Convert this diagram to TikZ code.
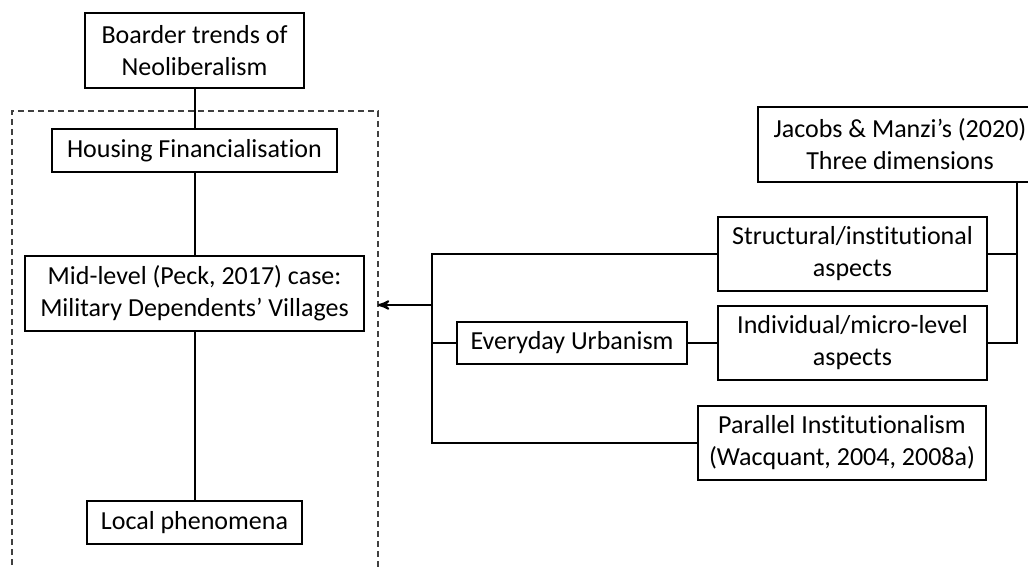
\documentclass[tikz,border=0pt]{standalone}
\usepackage{fontspec}
\setmainfont[Ligatures=NoCommon]{Carlito}
\usetikzlibrary{arrows}

\begin{document}
\begin{tikzpicture}[x=0.5pt, y=-0.5pt, >=stealth', line width=1pt,
    box/.style={draw, line width=0.75pt, inner sep=0pt, align=center,
        font=\fontsize{13}{16}\selectfont},
    frame/.style={draw=black!75, line width=0.6pt, dash pattern=on 3pt off 2pt}]
    \useasboundingbox (0,0) rectangle (1028,567);

    % Left column {boarder, housing, midlevel, local}
    \node [box, minimum width=109.5pt, minimum height=37.5pt] (boarder)  at (194.5,50.5)  {Boarder trends of\\Neoliberalism};
    \node [box, minimum width=142.5pt, minimum height=21.5pt] (housing)  at (194.5,150.5) {Housing Financialisation};
    \node [box, minimum width=169.5pt, minimum height=37.5pt] (midlevel) at (194.5,293.5) {Mid-level (Peck, 2017) case:\\Military Dependents’ Villages};
    \node [box, minimum width=107.5pt, minimum height=21.5pt] (local)    at (194.5,522.5) {Local phenomena};

    % Right side {everyday, structural, individual, parallel, jacobs}
    \node [box, minimum width=115pt,   minimum height=21pt]   (everyday)   at (572,343)   {Everyday Urbanism};
    \node [box, minimum width=134.5pt, minimum height=37pt]   (structural) at (852.5,254) {Structural/institutional\\aspects};
    \node [box, minimum width=134.5pt, minimum height=37pt]   (individual) at (852.5,343) {Individual/micro-level\\aspects};
    \node [box, minimum width=144pt,   minimum height=37pt]   (parallel)   at (842,443)   {Parallel Institutionalism\\(Wacquant, 2004, 2008a)};
    \node [box, minimum width=142pt,   minimum height=37.5pt] (jacobs)     at (900,144.5) {Jacobs \& Manzi’s (2020)\\Three dimensions};

    % Dashed frame (open at the bottom)
    \draw [frame] (12,575) -- (12,111) -- (378,111) -- (378,575);

    % Helper coordinates
    \coordinate (trunk)  at (432,305);
    \coordinate (edge)   at (378,305);
    \coordinate (jdrop)  at (1017,182);

    % Paths
    \draw (boarder)  -- (housing);
    \draw (housing)  -- (midlevel);
    \draw (midlevel) -- (local);
    \draw (structural.west) -- (structural.west -| trunk) -- (parallel.west -| trunk) -- (parallel.west);
    \draw (everyday.west -| trunk) -- (everyday.west);
    \draw (everyday) -- (individual);
    \draw (jdrop) -- (individual.east -| jdrop) -- (individual.east);
    \draw (structural.east) -- (structural.east -| jdrop);
    \draw [->] (trunk) -- (edge);

\end{tikzpicture}
\end{document}
